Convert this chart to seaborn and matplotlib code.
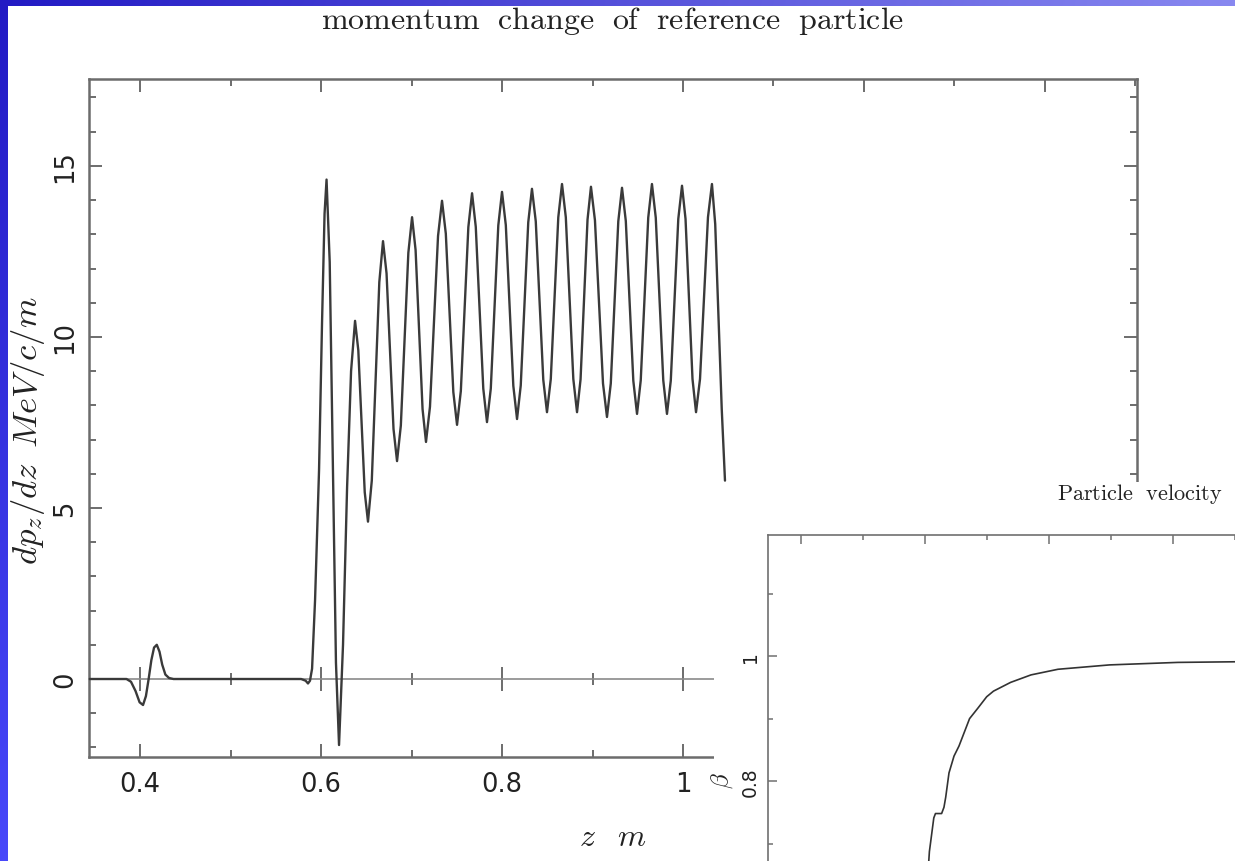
import numpy as np
import pandas as pd
import matplotlib
matplotlib.use("Agg")
import matplotlib.pyplot as plt
import seaborn as sns
from matplotlib.patches import Rectangle
from matplotlib.ticker import MultipleLocator

# ---------------- data ----------------
z_main = [
    0.3436, 0.3850, 0.3900, 0.3950, 0.3995, 0.4033, 0.4065, 0.4095, 0.4125, 0.4155, 0.4185, 0.4215, 0.4245, 0.4280, 0.4320, 0.4370,
    0.5780, 0.5830, 0.5856, 0.5878, 0.5901, 0.5934, 0.5978, 0.6011, 0.6039, 0.6061,
    0.6096, 0.6130, 0.6165, 0.6199,
    0.6243, 0.6288, 0.6332, 0.6376,
    0.6412, 0.6448, 0.6483, 0.6519,
    0.6561, 0.6602, 0.6644, 0.6685,
    0.6724, 0.6763, 0.6801, 0.6840,
    0.6882, 0.6923, 0.6965, 0.7006,
    0.7045, 0.7083, 0.7122, 0.7160,
    0.7204, 0.7249, 0.7293, 0.7337,
    0.7379, 0.7420, 0.7462, 0.7503,
    0.7545, 0.7586, 0.7628, 0.7669,
    0.7710, 0.7752, 0.7793, 0.7834,
    0.7876, 0.7917, 0.7959, 0.8000,
    0.8042, 0.8083, 0.8125, 0.8166,
    0.8207, 0.8249, 0.8290, 0.8331,
    0.8373, 0.8414, 0.8456, 0.8497,
    0.8539, 0.8580, 0.8622, 0.8663,
    0.8705, 0.8746, 0.8788, 0.8829,
    0.8868, 0.8906, 0.8945, 0.8983,
    0.9027, 0.9072, 0.9116, 0.9160,
    0.9202, 0.9243, 0.9285, 0.9326,
    0.9368, 0.9409, 0.9451, 0.9492,
    0.9533, 0.9575, 0.9616, 0.9657,
    0.9699, 0.9740, 0.9782, 0.9823,
    0.9865, 0.9906, 0.9948, 0.9989,
    1.0028, 1.0067, 1.0105, 1.0144,
    1.0188, 1.0232, 1.0276, 1.0320,
    1.0356, 1.0392, 1.0428, 1.0464,
]
dpdz = [
    0.0, 0.0, -0.08, -0.35, -0.68, -0.76, -0.50, 0.0, 0.55, 0.92, 1.00, 0.80, 0.42, 0.13, 0.03, 0.0,
    0.0, -0.05, -0.13, -0.05, 0.3, 2.3, 6.1, 10.4, 13.6, 14.6,
    12.19, 6.33, 0.48, -1.93,
    1.0, 5.6, 9.0, 10.47,
    9.61, 7.53, 5.46, 4.6,
    5.8, 8.7, 11.6, 12.8,
    11.86, 9.59, 7.31, 6.37,
    7.41, 9.94, 12.46, 13.5,
    12.54, 10.22, 7.89, 6.93,
    7.96, 10.46, 12.95, 13.98,
    13.02, 10.71, 8.39, 7.43,
    8.42, 10.82, 13.21, 14.2,
    13.22, 10.86, 8.49, 7.51,
    8.49, 10.88, 13.26, 14.24,
    13.27, 10.92, 8.57, 7.6,
    8.58, 10.97, 13.35, 14.33,
    13.38, 11.07, 8.75, 7.8,
    8.77, 11.14, 13.50, 14.47,
    13.50, 11.14, 8.77, 7.8,
    8.76, 11.10, 13.43, 14.39,
    13.41, 11.03, 8.64, 7.66,
    8.64, 11.01, 13.38, 14.36,
    13.39, 11.06, 8.72, 7.75,
    8.73, 11.11, 13.49, 14.47,
    13.49, 11.11, 8.73, 7.75,
    8.72, 11.09, 13.45, 14.42,
    13.45, 11.11, 8.77, 7.8,
    8.77, 11.14, 13.50, 14.47,
    13.3, 10.6, 7.9, 5.8,
]

z_beta = [0.6050, 0.6071, 0.6142, 0.6169, 0.6268, 0.6306, 0.6334, 0.6387, 0.6468, 0.6548,
          0.6719, 0.6855, 0.6995, 0.7105, 0.7381, 0.7710, 0.8145, 0.8977, 1.0077, 1.1000]
beta = [0.655, 0.687, 0.741, 0.748, 0.748, 0.758, 0.774, 0.813, 0.840, 0.856,
        0.900, 0.917, 0.935, 0.944, 0.958, 0.970, 0.979, 0.986, 0.990, 0.991]

main_xticks = [0.4, 0.6, 0.8, 1.0, 1.2, 1.4]
main_xtick_labels = ["0.4", "0.6", "0.8", "1", "1.2", "1.4"]
main_yticks = [0, 5, 10, 15]
main_ytick_labels = ["0", "5", "10", "15"]
inset_xticks = [0.4, 0.6, 0.8, 1.0]
inset_yticks = [0.8, 1.0]
inset_ytick_labels = ["0.8", "1"]

title_text = r"$\mathrm{momentum\ \ change\ \ of\ \ reference\ \ particle}$"
inset_title = r"$\mathrm{Particle\ \ velocity}$"
xlabel_text = r"$z\;\;\;m$"
ylabel_text = r"$dp_z/dz\;\;MeV/c/m$"
inset_ylabel = r"$\beta$"

# ---------------- styling ----------------
sns.set_theme(style="ticks")
plt.rcParams["font.family"] = ["DejaVu Sans"]
plt.rcParams["mathtext.fontset"] = "cm"

W, H = 1235, 862
fig = plt.figure(figsize=(W / 100, H / 100), dpi=100)


def fx(px):
    return px / W


def fy(py):
    return 1 - py / H


# slide background: blue gradient frame
bg = fig.add_axes([0, 0, 1, 1], zorder=0)
bg.set_axis_off()
gx = np.linspace(0, 1, 300)[None, :, None]
gy = np.linspace(0, 1, 300)[:, None, None]
TL = np.array([34, 26, 196]); TR = np.array([136, 136, 240])
BL = np.array([72, 72, 250]); BR = np.array([150, 150, 250])
img = (TL * (1 - gx) * (1 - gy) + TR * gx * (1 - gy) + BL * (1 - gx) * gy + BR * gx * gy) / 255.0
bg.imshow(img, extent=[0, 1, 0, 1], aspect="auto", origin="upper")
bg.add_patch(Rectangle((8 / W, 0), 1 - 8 / W, 1 - 7 / H, facecolor="white", edgecolor="none"))
bg.set_xlim(0, 1); bg.set_ylim(0, 1)

spine_c = "#6c6c6c"
text_c = "#222222"

# ---------------- main axes ----------------
L, R, T, B = 89, 1137, 80, 758
ax = fig.add_axes([fx(L), fy(B), (R - L) / W, (B - T) / H], zorder=1)
ax.set_facecolor("none")
df = pd.DataFrame({"z": z_main, "dpdz": dpdz})
sns.lineplot(data=df, x="z", y="dpdz", ax=ax, sort=False, estimator=None,
             color="#3a3a3a", lw=1.7, zorder=3)
ax.set_xlim(0.3436, 1.5017)
ax.set_ylim(-2.28, 17.54)

for s in ax.spines.values():
    s.set_color(spine_c)
    s.set_linewidth(1.8)

ax.set_xticks(main_xticks, labels=main_xtick_labels)
ax.xaxis.set_minor_locator(MultipleLocator(0.1))
ax.set_yticks(main_yticks, labels=main_ytick_labels)
ax.yaxis.set_minor_locator(MultipleLocator(1))
ax.tick_params(which="both", direction="in", top=True, right=True, bottom=True, left=True,
               color=spine_c, width=1.4, labelcolor=text_c)
ax.tick_params(which="major", length=9.4)
ax.tick_params(which="minor", length=4.7)
ax.tick_params(axis="x", labelsize=18.5, pad=10)
ax.tick_params(axis="y", labelsize=18.5, pad=8, labelrotation=90)
for t in ax.get_yticklabels():
    t.set_va("center")

# zero axis with crossing ticks
sec = ax.secondary_xaxis(0, transform=ax.transData)
sec.spines["bottom"].set_color("#8a8a8a")
sec.spines["bottom"].set_linewidth(1.2)
sec.set_xticks(main_xticks, labels=[])
sec.xaxis.set_minor_locator(MultipleLocator(0.1))
sec.tick_params(which="both", direction="inout", color=spine_c, width=1.4, labelbottom=False)
sec.tick_params(which="major", length=17)
sec.tick_params(which="minor", length=8)

ax.set_xlabel(xlabel_text, fontsize=23, color=text_c)
ax.xaxis.set_label_coords(0.5, (B - 838) / (B - T))
ax.xaxis.label.set_va("center")
ax.set_ylabel(ylabel_text, fontsize=25, color=text_c)
ax.yaxis.set_label_coords((28 - L) / (R - L), (B - 431) / (B - T))
ax.yaxis.label.set_va("center")

# crop of the lower-right part of the original plot
fig.add_artist(Rectangle((fx(714), 0), 1 - fx(714), fy(483), transform=fig.transFigure,
                         facecolor="white", edgecolor="none", zorder=2))

# ---------------- inset (particle velocity) ----------------
IL, IT = 768, 536
ax_in = fig.add_axes([fx(IL), 0, (W - IL) / W, (H - IT) / H], zorder=3)
ax_in.set_facecolor("white")
dfb = pd.DataFrame({"z": z_beta, "beta": beta})
sns.lineplot(data=dfb, x="z", y="beta", ax=ax_in, sort=False, estimator=None,
             color="#333333", lw=1.2)
ax_in.set_xlim(0.3468, 1.100)
ax_in.set_ylim(0.672, 1.194)
ax_in.spines["right"].set_visible(False)
ax_in.spines["bottom"].set_visible(False)
for k in ("left", "top"):
    ax_in.spines[k].set_color("#707070")
    ax_in.spines[k].set_linewidth(1.2)
ax_in.set_xticks(inset_xticks, labels=[])
ax_in.xaxis.set_minor_locator(MultipleLocator(0.1))
ax_in.set_yticks(inset_yticks, labels=inset_ytick_labels)
ax_in.yaxis.set_minor_locator(MultipleLocator(0.1))
ax_in.tick_params(which="both", direction="in", top=True, bottom=False, left=True, right=False,
                  labelbottom=False, labeltop=False, color="#707070", width=1.1, labelcolor=text_c)
ax_in.tick_params(which="major", length=6.5)
ax_in.tick_params(which="minor", length=3.3)
ax_in.tick_params(axis="y", labelsize=13.5, pad=6, labelrotation=90)
for t in ax_in.get_yticklabels():
    t.set_va("center")
ax_in.set_xlabel("")
ax_in.set_ylabel(inset_ylabel, fontsize=18, color=text_c)
ax_in.yaxis.set_label_coords((722 - IL) / (W - IL), (H - 781) / (H - IT))
ax_in.yaxis.label.set_va("center")

# ---------------- titles ----------------
fig.text(fx(613), fy(21), title_text, ha="center", va="center",
         fontsize=23, color=text_c, zorder=5)
fig.text(fx(1140), fy(494), inset_title, ha="center", va="center",
         fontsize=16, color=text_c, zorder=5)

fig.savefig("out.png", dpi=100)
